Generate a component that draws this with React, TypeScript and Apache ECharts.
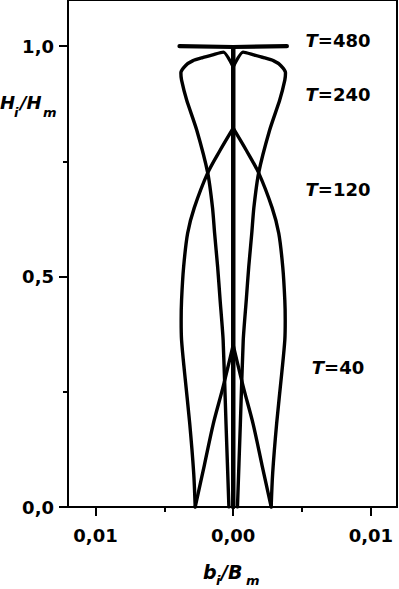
import React, { useEffect, useRef } from "react";
import * as echarts from "echarts";

// Half-width profiles b_i/B_m (symmetric about 0) at relative heights H_i/H_m
const heightsT40 = [0, 0.09, 0.18, 0.254, 0.31, 0.351];
const widthsT40 = [0.00276, 0.0021, 0.00145, 0.00079, 0.00033, 0];

const heightsT120 = [0, 0.074, 0.182, 0.291, 0.362, 0.405, 0.449, 0.521, 0.594, 0.649, 0.725, 0.774, 0.822];
const widthsT120 = [0.00276, 0.00287, 0.00316, 0.00353, 0.00375, 0.00378, 0.00375, 0.0036, 0.00331, 0.00283, 0.00185, 0.00095, 0];

const heightsT240 = [0, 0.18, 0.362, 0.449, 0.521, 0.594, 0.649, 0.725, 0.818, 0.883, 0.926, 0.942, 0.958, 0.968, 0.975, 0.981, 0.987, 0.955];
const widthsT240 = [0.00031, 0.00052, 0.00073, 0.00095, 0.00113, 0.00135, 0.0015, 0.00185, 0.00265, 0.00338, 0.00375, 0.0038, 0.00345, 0.00295, 0.00222, 0.00149, 0.00072, 0];

const heightsT480 = [0, 0.998, 1.0];
const widthsT480 = [0, 0, 0.0039];

const curveNames = ["T=40", "T=120", "T=240", "T=480"];
const xTickValues = [-0.01, 0, 0.01];
const xMinorValues = [-0.005, 0.005];
const yTickValues = [0, 0.5, 1.0];
const yMinorValues = [0.25, 0.75];

const FONT = "DejaVu Sans";

function leftHalf(h: number[], w: number[]) {
  return h.map((y, i) => [-w[i], y]);
}
function rightHalf(h: number[], w: number[]) {
  return h.map((y, i) => [w[i], y]);
}

export default function App() {
  const ref = useRef<HTMLDivElement>(null);
  useEffect(() => {
    if (!ref.current) return;
    const chart = echarts.init(ref.current, null, { renderer: "svg" });
    const profiles = [
      [heightsT40, widthsT40, 3.4, 0.3],
      [heightsT120, widthsT120, 3.4, 0.3],
      [heightsT240, widthsT240, 3.4, 0.2],
      [heightsT480, widthsT480, 4.2, 0],
    ] as [number[], number[], number, number][];
    const series: any[] = [];
    profiles.forEach(([h, w, lw, sm], k) => {
      [leftHalf(h, w), rightHalf(h, w)].forEach((d) => {
        series.push({
          type: "line",
          name: curveNames[k],
          data: d,
          symbol: "none",
          smooth: sm,
          lineStyle: { color: "#000", width: lw, cap: "round", join: "round" },
          z: 3,
        });
      });
    });
    const axisLineStyle = { color: "#000", width: 2 };
    const labelFont = { fontFamily: FONT, fontWeight: "bold", fontSize: 18, color: "#000" };
    const tLabel = (txt: string, y: number) => ({
      type: "text",
      x: 338,
      y,
      style: {
        text: "{i|T}" + txt,
        align: "center",
        verticalAlign: "middle",
        fontFamily: FONT,
        fontWeight: "bold",
        fontSize: 18,
        fill: "#000",
        rich: { i: { fontFamily: FONT, fontWeight: "bold", fontStyle: "italic", fontSize: 18, color: "#000" } },
      },
    });
    const part = (t: string, x: number, y: number, fs: number) => ({
      type: "text",
      x,
      y,
      style: {
        text: t,
        align: "left",
        verticalAlign: "middle",
        fontFamily: FONT,
        fontWeight: "bold",
        fontStyle: "italic",
        fontSize: fs,
        fill: "#000",
      },
    });
    chart.setOption({
      animation: false,
      grid: { left: 68, right: 2, top: 0, bottom: 82, show: true, borderColor: "#000", borderWidth: 2 },
      xAxis: [
        {
          type: "value",
          min: -0.012,
          max: 0.0119,
          position: "bottom",
          axisLine: { show: true, onZero: false, lineStyle: axisLineStyle },
          axisTick: { show: true, customValues: xTickValues, length: 9, lineStyle: axisLineStyle },
          axisLabel: {
            show: true,
            customValues: xTickValues,
            margin: 19,
            ...labelFont,
            formatter: (v: number) => Math.abs(v).toFixed(2).replace(".", ","),
          },
          splitLine: { show: false },
        },
        {
          type: "value",
          min: -0.012,
          max: 0.0119,
          position: "bottom",
          axisLine: { show: false, onZero: false },
          axisTick: { show: true, customValues: xMinorValues, length: 5, lineStyle: axisLineStyle },
          axisLabel: { show: false },
          splitLine: { show: false },
        },
      ],
      yAxis: [
        {
          type: "value",
          min: 0,
          max: 1.1,
          position: "left",
          axisLine: { show: true, onZero: false, lineStyle: axisLineStyle },
          axisTick: { show: true, customValues: yTickValues, length: 9, lineStyle: axisLineStyle },
          axisLabel: {
            show: true,
            customValues: yTickValues,
            margin: 14,
            ...labelFont,
            formatter: (v: number) => v.toFixed(1).replace(".", ","),
          },
          splitLine: { show: false },
        },
        {
          type: "value",
          min: 0,
          max: 1.1,
          position: "left",
          axisLine: { show: false, onZero: false },
          axisTick: { show: true, customValues: yMinorValues, length: 5, lineStyle: axisLineStyle },
          axisLabel: { show: false },
          splitLine: { show: false },
        },
      ],
      series,
      graphic: [
        tLabel("=480", 40),
        tLabel("=240", 94),
        tLabel("=120", 189),
        tLabel("=40", 367),
        part("H", 0, 102, 18),
        part("i", 14, 112.5, 13),
        part("/H", 20, 102, 18),
        part("m", 43, 112.5, 13),
        part("b", 203, 572, 19),
        part("i", 216, 580.5, 13),
        part("/B", 221, 572, 19),
        part("m", 246, 580.5, 13),
      ],
    });
    return () => chart.dispose();
  }, []);
  return (
    <div
      ref={ref}
      style={{ position: "fixed", left: 0, top: 0, width: 399, height: 589, background: "#fff" }}
    />
  );
}
